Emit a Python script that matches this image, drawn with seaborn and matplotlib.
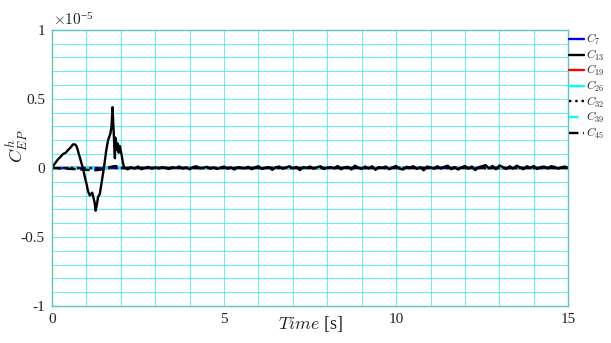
import numpy as np
import pandas as pd
import matplotlib
matplotlib.use("Agg")
import matplotlib.pyplot as plt
import seaborn as sns
from matplotlib.ticker import MultipleLocator, FuncFormatter

# ---------------- data (values in units of 1e-5) ----------------
series_names = ["C7", "C13", "C19", "C26", "C32", "C39", "C45"]

t_c13_transient = [0.0, 0.08, 0.17, 0.25, 0.32, 0.40, 0.47, 0.55, 0.61, 0.67, 0.71, 0.75,
                   0.78, 0.82, 0.85, 0.90, 0.95, 1.00, 1.05, 1.10, 1.13, 1.17, 1.21, 1.24,
                   1.27, 1.31, 1.34, 1.39, 1.44, 1.51, 1.58, 1.63, 1.70, 1.73, 1.76, 1.78,
                   1.80, 1.83, 1.84, 1.86, 1.88, 1.90, 1.92, 1.94, 1.97, 2.02, 2.06, 2.10]
v_c13_transient = [0.0, 0.03, 0.06, 0.08, 0.10, 0.11, 0.13, 0.15, 0.17, 0.17, 0.16, 0.13,
                   0.10, 0.07, 0.04, 0.00, -0.06, -0.11, -0.17, -0.20, -0.19, -0.18, -0.22, -0.25,
                   -0.31, -0.26, -0.21, -0.19, -0.11, 0.00, 0.13, 0.20, 0.25, 0.30, 0.44, 0.33,
                   0.23, 0.07, 0.22, 0.16, 0.13, 0.18, 0.14, 0.11, 0.16, 0.10, 0.04, 0.0]

t_c13_tail = np.round(np.arange(2.2, 15.01, 0.1), 1)
v_c13_tail = [-0.01, 0.005, -0.005, 0.01, -0.01, 0.0, 0.008, -0.006, 0.004, -0.004,
              0.006, 0.0, -0.008, 0.005, 0.0, 0.01, -0.005, 0.004, -0.01, 0.006,
              0.012, -0.004, 0.0, 0.008, -0.006, 0.003, -0.008, 0.002, 0.01, -0.006,
              0.004, -0.012, 0.006, 0.0, -0.004, 0.008, -0.01, 0.004, 0.012, -0.008,
              0.0, 0.006, -0.014, 0.004, 0.01, -0.006, 0.002, 0.012, -0.004, 0.008,
              -0.016, 0.006, 0.0, 0.01, -0.006, 0.004, 0.012, -0.008, 0.002, 0.006,
              -0.004, 0.014, -0.01, 0.004, 0.008, -0.012, 0.016, 0.002, -0.008, 0.01,
              -0.004, 0.012, -0.014, 0.006, 0.0, 0.01, -0.01, 0.004, 0.014, -0.006,
              -0.012, 0.008, 0.002, 0.012, -0.008, 0.006, -0.018, 0.01, 0.004, -0.006,
              0.012, -0.004, 0.008, 0.016, -0.01, 0.006, -0.012, 0.004, 0.014, -0.006,
              0.01, -0.016, 0.006, 0.012, 0.02, -0.004, 0.014, -0.01, 0.018, 0.006,
              -0.008, 0.012, -0.006, 0.016, 0.004, -0.01, 0.012, 0.0, 0.014, -0.008,
              0.006, 0.01, -0.004, 0.012, 0.008, -0.006, 0.004, 0.01, -0.002]

t_c13 = list(t_c13_transient) + list(t_c13_tail)
v_c13 = list(v_c13_transient) + list(v_c13_tail)

t_c45 = [0.0, 0.3, 0.6, 0.9, 1.0, 1.2, 1.3, 1.5, 1.6, 1.75, 1.85, 2.0, 2.1, 15.0]
v_c45 = [0.0, -0.004, -0.008, -0.012, -0.014, -0.018, -0.016, -0.01, 0.0, 0.01, 0.014, 0.005, 0.0, 0.0]

t_flat = [0.0, 15.0]
v_c7 = [0.0, 0.0]
v_c19 = [0.0, 0.0]
v_c26 = [0.0, 0.0]
v_c32 = [0.0, 0.0]
v_c39 = [0.0, 0.0]

x_ticks = [0, 5, 10, 15]
y_ticks = [-1, -0.5, 0, 0.5, 1]

# ---------------- style ----------------
sns.set_theme(style="white")
plt.rcParams["font.family"] = ["Liberation Serif", "DejaVu Serif"]
plt.rcParams["mathtext.fontset"] = "cm"

fig = plt.figure(figsize=(6.11, 3.43), dpi=100)
ax = fig.add_axes([0.085, 0.108, 0.845, 0.805])

styles = {
    "C19": dict(color="red", linestyle="-"),
    "C26": dict(color="cyan", linestyle="-"),
    "C7": dict(color="blue", linestyle="-"),
    "C39": dict(color="cyan", linestyle=(0, (4, 3))),
    "C32": dict(color="black", linestyle=":"),
    "C45": dict(color="black", linestyle=(0, (4, 2))),
    "C13": dict(color="black", linestyle="-"),
}
data = {
    "C7": (t_flat, v_c7), "C13": (t_c13, v_c13), "C19": (t_flat, v_c19),
    "C26": (t_flat, v_c26), "C32": (t_flat, v_c32), "C39": (t_flat, v_c39),
    "C45": (t_c45, v_c45),
}
handles = {}
for name in ["C19", "C26", "C7", "C39", "C32", "C45", "C13"]:
    tx, vy = data[name]
    df = pd.DataFrame({"t": tx, "v": vy})
    sns.lineplot(data=df, x="t", y="v", ax=ax, lw=1.7, estimator=None, sort=False,
                 **styles[name])
    handles[name] = ax.lines[-1]

ax.set_xlim(0, 15)
ax.set_ylim(-1, 1)
ax.set_xticks(x_ticks)
ax.set_yticks(y_ticks)
ax.xaxis.set_minor_locator(MultipleLocator(1))
ax.yaxis.set_minor_locator(MultipleLocator(0.1))
ax.grid(True, which="both", color="#33f0f0", lw=0.55)
ax.set_axisbelow(True)
fmt = FuncFormatter(lambda v, p: ("%g" % v).replace("\u2212", "-"))
ax.xaxis.set_major_formatter(fmt)
ax.yaxis.set_major_formatter(fmt)
ax.tick_params(axis="both", which="major", direction="in", length=3, color="#888888",
               labelsize=11, pad=5, labelcolor="#222222")
ax.tick_params(axis="both", which="minor", length=0)
for s in ax.spines.values():
    s.set_color("#5cc4c4")
    s.set_linewidth(1.0)

ax.set_xlabel(r"$Time$ [s]", fontsize=13, color="#222222")
ax.xaxis.set_label_coords(0.5, -0.03)
ax.set_ylabel(r"$C^{h}_{EP}$", fontsize=13, color="#222222")
ax.yaxis.set_label_coords(-0.042, 0.58)
ax.text(0.002, 1.005, r"$\times 10^{\mathregular{-5}}$", transform=ax.transAxes,
        fontsize=11, va="bottom", ha="left", color="#222222")

order = ["C7", "C13", "C19", "C26", "C32", "C39", "C45"]
leg = ax.legend([handles[n] for n in order], [r"$C_{%s}$" % n[1:] for n in order],
                loc="upper left", bbox_to_anchor=(0.997, 1.0), frameon=False,
                fontsize=8.5, handlelength=1.3, handletextpad=0.15, labelspacing=0.05,
                borderaxespad=0.1, borderpad=0.1)

fig.savefig("out.png", dpi=100, facecolor="white")
